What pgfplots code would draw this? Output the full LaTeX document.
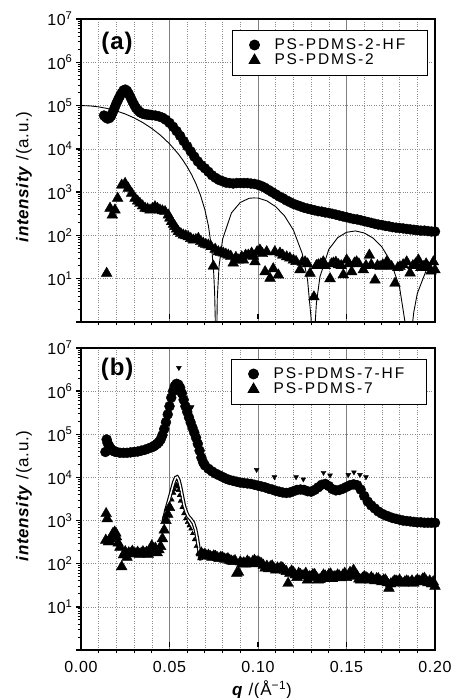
\documentclass[border=0pt]{standalone}
\usepackage{pgfplots}
\pgfplotsset{compat=1.18}
\usepackage{fontspec}
\setmainfont{Liberation Sans}[LetterSpace=4]
\newfontfamily\legfont{Liberation Sans}[LetterSpace=12]
\begin{document}
\begin{tikzpicture}[x=1pt,y=1pt]
\path[use as bounding box] (0,0) rectangle (453,698);
% ---------------- panel (a)
\begin{axis}[scale only axis, width=354pt, height=303pt, at={(81pt,376pt)}, anchor=south west,
    xmin=0, xmax=0.2, ymode=log, ymin=1, ymax=1e7,
    xtick={0,0.05,0.1,0.15,0.2}, minor x tick num=4,
    ytick={1,10,100,1000,10000,100000,1000000,10000000},
    yticklabels={,10\textsuperscript{1},10\textsuperscript{2},10\textsuperscript{3},10\textsuperscript{4},10\textsuperscript{5},10\textsuperscript{6},10\textsuperscript{7}},
    minor ytick={2,3,4,5,6,7,8,9,20,30,40,50,60,70,80,90,200,300,400,500,600,700,800,900,2000,3000,4000,5000,6000,7000,8000,9000,20000,30000,40000,50000,60000,70000,80000,90000,200000,300000,400000,500000,600000,700000,800000,900000,2000000,3000000,4000000,5000000,6000000,7000000,8000000,9000000},
    tick pos=left, tick align=outside,
    major tick length=5pt, minor tick length=3.5pt,
    major x tick style={line width=1.3pt, black, yshift=8pt},
    minor x tick style={line width=1pt, black},
    major y tick style={line width=1.3pt, black},
    minor y tick style={line width=0.8pt, black},
    xmajorgrids, xminorgrids, ymajorgrids,
    major x grid style={black!50, line width=0.6pt},
    minor x grid style={black!45, dotted, line width=0.6pt},
    major y grid style={black!45, dotted, line width=0.6pt},
    axis line style={line width=1.5pt},
    tick label style={font=\fontsize{16}{18}\selectfont},
    xticklabels={,,,,},
    legend cell align=left,
    legend image code/.code={\path[draw=none,fill=none] (0pt,-5pt) rectangle (40pt,5pt); \draw[#1] plot coordinates {(22pt,0pt)};},
    legend style={at={(0.9802,0.964)}, anchor=north east, draw=black, line width=0.9pt, font=\legfont\fontsize{15.5}{18}\selectfont,
      inner xsep=0pt, inner ysep=6.5pt, row sep=-1pt, nodes={text width=151pt}}]
\addplot[only marks, mark=*, mark size=5pt, black] coordinates {(0.013,58900)(0.014,53700)(0.015,50100)(0.016,51300)(0.017,57500)(0.018,70800)(0.019,89100)(0.020,112200)(0.021,138000)(0.022,166000)(0.023,195000)(0.024,224000)(0.025,234000)(0.026,219000)(0.027,186000)(0.028,155000)(0.029,126000)(0.030,105000)(0.031,89100)(0.032,79400)(0.033,72400)(0.034,67600)(0.035,64600)(0.036,63100)(0.037,62400)(0.038,61700)(0.039,61000)(0.040,60300)(0.042,58900)(0.044,56200)(0.046,52500)(0.048,46800)(0.050,39800)(0.052,32400)(0.054,25700)(0.056,20000)(0.058,15100)(0.060,11500)(0.062,8710)(0.064,6610)(0.066,5130)(0.068,4170)(0.070,3550)(0.072,2950)(0.074,2450)(0.076,2140)(0.078,1910)(0.080,1780)(0.082,1660)(0.084,1620)(0.086,1580)(0.088,1620)(0.090,1620)(0.092,1620)(0.094,1620)(0.096,1580)(0.098,1550)(0.100,1480)(0.102,1380)(0.104,1260)(0.106,1120)(0.108,1000)(0.110,891)(0.112,794)(0.114,724)(0.116,646)(0.118,589)(0.120,537)(0.122,501)(0.124,468)(0.126,437)(0.128,417)(0.130,398)(0.132,380)(0.134,363)(0.136,355)(0.138,339)(0.140,331)(0.142,316)(0.144,302)(0.146,288)(0.148,275)(0.150,263)(0.152,251)(0.154,240)(0.156,234)(0.158,224)(0.160,214)(0.162,204)(0.164,195)(0.166,186)(0.168,178)(0.170,174)(0.172,166)(0.174,162)(0.176,155)(0.178,151)(0.180,148)(0.182,145)(0.184,141)(0.186,138)(0.188,135)(0.190,132)(0.192,129)(0.194,129)(0.196,126)(0.198,123)(0.200,123)};
\addlegendentry{PS-PDMS-2-HF}
\addplot[only marks, mark=triangle*, mark size=6.2pt, black] coordinates {(0.0145,13.3)(0.0164,424)(0.0177,295)(0.0192,387)(0.0207,720)(0.023,1450)(0.0249,1590)(0.0267,1230)(0.0286,940)(0.0305,720)(0.0320,620)(0.0333,550)(0.0348,480)(0.0362,424)(0.0376,410)(0.039,387)(0.0404,420)(0.0418,460)(0.0432,420)(0.0446,387)(0.046,370)(0.0475,355)(0.0493,295)(0.0502,250)(0.0512,208)(0.0522,180)(0.0531,160)(0.054,140)(0.055,122)(0.0564,110)(0.0578,102)(0.0592,98)(0.0606,93)(0.062,85)(0.0635,78)(0.0649,80)(0.0663,85)(0.0677,72)(0.0691,66)(0.0705,62)(0.0719,60)(0.0735,55)(0.0748,19.5)(0.0758,48)(0.0776,42)(0.079,40)(0.0804,39)(0.0818,37)(0.0832,35)(0.0846,33)(0.086,23)(0.0875,31)(0.0889,27)(0.0908,32)(0.0917,27)(0.093,35)(0.0945,35)(0.0964,39)(0.0973,33)(0.0983,24.5)(0.0995,42)(0.1011,46)(0.1025,38)(0.104,14.5)(0.1049,42)(0.1068,10.2)(0.1086,17)(0.1095,42)(0.1115,12.2)(0.1124,39)(0.114,35)(0.1162,32)(0.118,30)(0.12,27)(0.1215,25)(0.1237,16)(0.125,24)(0.1266,24.5)(0.128,22)(0.1294,13.3)(0.1316,3.8)(0.133,20)(0.1341,21)(0.1355,22)(0.1369,24.5)(0.138,20)(0.1407,10)(0.1415,22)(0.1426,23)(0.144,24)(0.1455,21)(0.147,20)(0.1482,12.3)(0.1501,27)(0.1515,22)(0.1529,14.5)(0.1545,23)(0.1557,24.5)(0.157,22)(0.1595,16)(0.161,20)(0.1629,35)(0.164,21)(0.1661,9.3)(0.1675,20)(0.169,19)(0.1705,21)(0.1727,24.5)(0.174,20)(0.1755,19)(0.1774,7.8)(0.179,18)(0.1802,19)(0.182,21)(0.184,24.5)(0.1859,13.5)(0.1875,20)(0.189,22)(0.1906,27)(0.192,18)(0.1934,19)(0.195,22)(0.1963,18)(0.1978,15)(0.1991,24.5)(0.2,16)};
\addlegendentry{PS-PDMS-2}
\addplot[black, line width=0.9pt, forget plot] coordinates {(0,100000)(0.005,98278)(0.01,93265)(0.015,85394)(0.02,75330)(0.025,63889)(0.03,51933)(0.035,40283)(0.04,29637)(0.045,20480)(0.05,13118)(0.055,7610)(0.0575,5522)(0.06,3840)(0.0625,2529)(0.065,1546)(0.0675,849)(0.07,390.8)(0.072,166)(0.074,42.9)(0.075,12.95)(0.0755,4.73)(0.076,0.617)(0.0763,0.001)(0.0766,0.29)(0.077,3.56)(0.078,19.5)(0.08,81.9)(0.085,331.5)(0.09,578)(0.095,721)(0.0975,735)(0.1,731)(0.105,629)(0.11,462)(0.115,282)(0.12,133)(0.125,38.0)(0.128,9.38)(0.13,1.20)(0.1312,0.001)(0.132,0.594)(0.133,2.75)(0.135,11.1)(0.14,47.5)(0.145,88.8)(0.15,118)(0.155,127)(0.16,114)(0.165,86.8)(0.17,54.0)(0.175,25.0)(0.18,6.26)(0.183,1.03)(0.1851,0.001)(0.187,0.733)(0.188,1.68)(0.19,4.56)(0.195,15.5)(0.2,27.5)};
\node[font=\bfseries\fontsize{24}{28}\selectfont] at (rel axis cs:0.102,0.921) {(a)};
\end{axis}
% ---------------- panel (b)
\begin{axis}[scale only axis, width=354pt, height=302pt, at={(81pt,48pt)}, anchor=south west,
    xmin=0, xmax=0.2, ymode=log, ymin=1, ymax=1e7,
    xtick={0,0.05,0.1,0.15,0.2}, minor x tick num=4,
    ytick={1,10,100,1000,10000,100000,1000000,10000000},
    yticklabels={,10\textsuperscript{1},10\textsuperscript{2},10\textsuperscript{3},10\textsuperscript{4},10\textsuperscript{5},10\textsuperscript{6},10\textsuperscript{7}},
    minor ytick={2,3,4,5,6,7,8,9,20,30,40,50,60,70,80,90,200,300,400,500,600,700,800,900,2000,3000,4000,5000,6000,7000,8000,9000,20000,30000,40000,50000,60000,70000,80000,90000,200000,300000,400000,500000,600000,700000,800000,900000,2000000,3000000,4000000,5000000,6000000,7000000,8000000,9000000},
    tick pos=left, tick align=outside,
    major tick length=5pt, minor tick length=3.5pt,
    major x tick style={line width=1.3pt, black, yshift=8pt},
    minor x tick style={line width=1pt, black},
    major y tick style={line width=1.3pt, black},
    minor y tick style={line width=0.8pt, black},
    xmajorgrids, xminorgrids, ymajorgrids,
    major x grid style={black!50, line width=0.6pt},
    minor x grid style={black!45, dotted, line width=0.6pt},
    major y grid style={black!45, dotted, line width=0.6pt},
    axis line style={line width=1.5pt},
    tick label style={font=\fontsize{16}{18}\selectfont},
    xticklabels={0.00,0.05,0.10,0.15,0.20},
    xticklabel style={yshift=-3pt},
    legend cell align=left,
    legend image code/.code={\path[draw=none,fill=none] (0pt,-5pt) rectangle (40pt,5pt); \draw[#1] plot coordinates {(22pt,0pt)};},
    legend style={at={(0.9774,0.964)}, anchor=north east, draw=black, line width=0.9pt, font=\legfont\fontsize{15.5}{18}\selectfont,
      inner xsep=0pt, inner ysep=6.5pt, row sep=-1pt, nodes={text width=151pt}}]
\addplot[only marks, mark=*, mark size=5pt, black] coordinates {(0.0138,38900)(0.0145,75900)(0.015,63100)(0.016,52500)(0.017,45700)(0.018,41700)(0.019,39800)(0.020,38900)(0.022,37200)(0.024,37200)(0.026,37200)(0.028,38000)(0.030,38900)(0.032,39800)(0.034,41700)(0.036,43650)(0.038,46800)(0.040,50100)(0.041,52500)(0.042,56200)(0.043,60300)(0.044,66100)(0.045,75900)(0.046,95500)(0.047,131800)(0.048,190500)(0.049,288400)(0.050,446700)(0.051,707900)(0.052,1000000)(0.053,1318000)(0.054,1479000)(0.055,1413000)(0.056,1202000)(0.057,891300)(0.058,631000)(0.059,446700)(0.060,331100)(0.061,245500)(0.062,186200)(0.063,141300)(0.064,109600)(0.065,83180)(0.066,60260)(0.067,41690)(0.068,28840)(0.069,22390)(0.070,19050)(0.072,15850)(0.074,13800)(0.076,12300)(0.078,11220)(0.080,10230)(0.082,9333)(0.084,8710)(0.086,8318)(0.088,7943)(0.090,7586)(0.092,7413)(0.094,7244)(0.096,7079)(0.098,6761)(0.100,6457)(0.102,6166)(0.104,5888)(0.106,5495)(0.108,5248)(0.110,4898)(0.112,4677)(0.114,4467)(0.116,4365)(0.118,4467)(0.120,4786)(0.122,5129)(0.124,5248)(0.126,5129)(0.128,4786)(0.130,4677)(0.132,5129)(0.134,5888)(0.136,6761)(0.138,7079)(0.140,6310)(0.142,5370)(0.144,5012)(0.146,5129)(0.148,5495)(0.150,6026)(0.152,6607)(0.154,6918)(0.156,6607)(0.158,5248)(0.160,3715)(0.162,2754)(0.164,2239)(0.166,1905)(0.168,1622)(0.170,1445)(0.172,1318)(0.174,1230)(0.176,1148)(0.178,1096)(0.180,1047)(0.182,1000)(0.184,977)(0.186,955)(0.188,933)(0.190,912)(0.192,912)(0.194,891)(0.196,891)(0.198,891)(0.200,891)};
\addlegendentry{PS-PDMS-7-HF}
\addplot[only marks, mark=triangle*, mark size=6.2pt, black] coordinates {(0.0140,350)(0.0142,1450)(0.0148,1100)(0.0155,320)(0.016,340)(0.017,380)(0.018,500)(0.019,540)(0.0197,510)(0.020,420)(0.021,300)(0.022,240)(0.023,85)(0.024,160)(0.025,190)(0.026,140)(0.027,180)(0.028,170)(0.029,195)(0.030,175)(0.031,170)(0.032,185)(0.033,165)(0.034,175)(0.035,190)(0.036,170)(0.037,185)(0.038,165)(0.039,200)(0.040,260)(0.041,200)(0.042,230)(0.043,180)(0.044,210)(0.045,250)(0.046,380)(0.047,600)(0.048,1000)(0.049,1400)(0.050,2000)(0.068,178)(0.069,158)(0.070,166)(0.071,151)(0.072,158)(0.073,148)(0.074,141)(0.075,152)(0.076,148)(0.077,138)(0.078,132)(0.079,141)(0.080,138)(0.081,128)(0.082,126)(0.083,131)(0.084,120)(0.085,115)(0.086,112)(0.087,118)(0.088,60)(0.089,63)(0.090,110)(0.091,100)(0.092,105)(0.093,98)(0.094,115)(0.095,106)(0.096,100)(0.097,112)(0.098,120)(0.099,108)(0.100,112)(0.101,105)(0.102,100)(0.103,92)(0.104,79)(0.105,88)(0.106,76)(0.107,85)(0.108,89)(0.109,78)(0.110,71)(0.111,80)(0.112,76)(0.113,82)(0.114,79)(0.115,70)(0.116,66)(0.117,35)(0.118,60)(0.119,68)(0.120,63)(0.121,55)(0.122,48)(0.123,60)(0.124,56)(0.125,52)(0.126,53)(0.127,60)(0.128,42)(0.129,50)(0.130,50)(0.131,56)(0.132,56)(0.133,48)(0.134,42)(0.135,43)(0.136,48)(0.137,55)(0.138,52)(0.139,45)(0.140,56)(0.141,58)(0.142,45)(0.143,50)(0.144,50)(0.145,55)(0.146,52)(0.147,47)(0.148,55)(0.149,60)(0.150,48)(0.151,53)(0.152,63)(0.153,52)(0.154,71)(0.155,58)(0.156,52)(0.157,44)(0.158,42)(0.159,46)(0.160,50)(0.161,48)(0.162,45)(0.163,42)(0.164,48)(0.165,44)(0.166,40)(0.167,45)(0.168,45)(0.169,40)(0.170,38)(0.171,42)(0.172,42)(0.173,36)(0.174,27)(0.175,34)(0.176,36)(0.177,40)(0.178,40)(0.179,38)(0.180,42)(0.181,36)(0.182,35)(0.183,38)(0.184,40)(0.185,38)(0.186,36)(0.187,40)(0.188,35)(0.189,38)(0.190,42)(0.191,40)(0.192,38)(0.193,44)(0.194,46)(0.195,40)(0.196,36)(0.197,40)(0.198,34)(0.199,38)(0.200,30)};
\addlegendentry{PS-PDMS-7}
\addplot[only marks, mark=triangle*, mark size=2.4pt, black, forget plot] coordinates {(0.0505,2200)(0.0515,3000)(0.0525,4300)(0.053,5200)(0.0535,6300)(0.054,6800)(0.0545,6000)(0.055,5000)(0.0555,3800)(0.056,2800)(0.057,2000)(0.058,1450)(0.059,1100)(0.060,900)(0.061,760)(0.062,640)(0.063,500)(0.064,360)(0.065,250)(0.066,170)(0.067,130)};
\addplot[black, line width=3.8pt, forget plot] coordinates {(0.0465,930)(0.048,1700)(0.0495,2800)(0.0510,4700)(0.0525,7800)(0.0535,9800)(0.0543,10200)(0.0552,8800)(0.0562,6000)(0.0572,3700)(0.0583,2200)(0.0595,1550)(0.0606,1250)(0.0620,1080)(0.0635,880)(0.0647,620)(0.0657,380)(0.0665,230)(0.0672,160)(0.0680,120)};
\addplot[white, line width=1.5pt, forget plot] coordinates {(0.0465,930)(0.048,1700)(0.0495,2800)(0.0510,4700)(0.0525,7800)(0.0535,9800)(0.0543,10200)(0.0552,8800)(0.0562,6000)(0.0572,3700)(0.0583,2200)(0.0595,1550)(0.0606,1250)(0.0620,1080)(0.0635,880)(0.0647,620)(0.0657,380)(0.0665,230)(0.0672,160)(0.0680,120)};
\addplot[only marks, mark=triangle*, mark size=2.8pt, mark options={rotate=180}, black, forget plot] coordinates {(0.0553,3470000)(0.0625,427000)(0.0992,15100)(0.1093,10200)(0.1215,10200)(0.1256,9100)(0.1370,12900)(0.1407,11200)(0.1510,11500)(0.1542,13200)(0.1576,11500)(0.1610,10200)};
\node[font=\bfseries\fontsize{24}{28}\selectfont] at (rel axis cs:0.102,0.93) {(b)};
\end{axis}
% axis titles
\node[rotate=90, font=\fontsize{17}{20}\selectfont] at (24,521) {\textbf{\textit{intensity}} /(a.u.)};
\node[rotate=90, font=\fontsize{17}{20}\selectfont] at (24,202) {\textbf{\textit{intensity}} /(a.u.)};
\node[font=\fontsize{17}{20}\selectfont] at (262,8) {\textbf{\textit{q}} /(Å\textsuperscript{−1})};
\end{tikzpicture}
\end{document}
